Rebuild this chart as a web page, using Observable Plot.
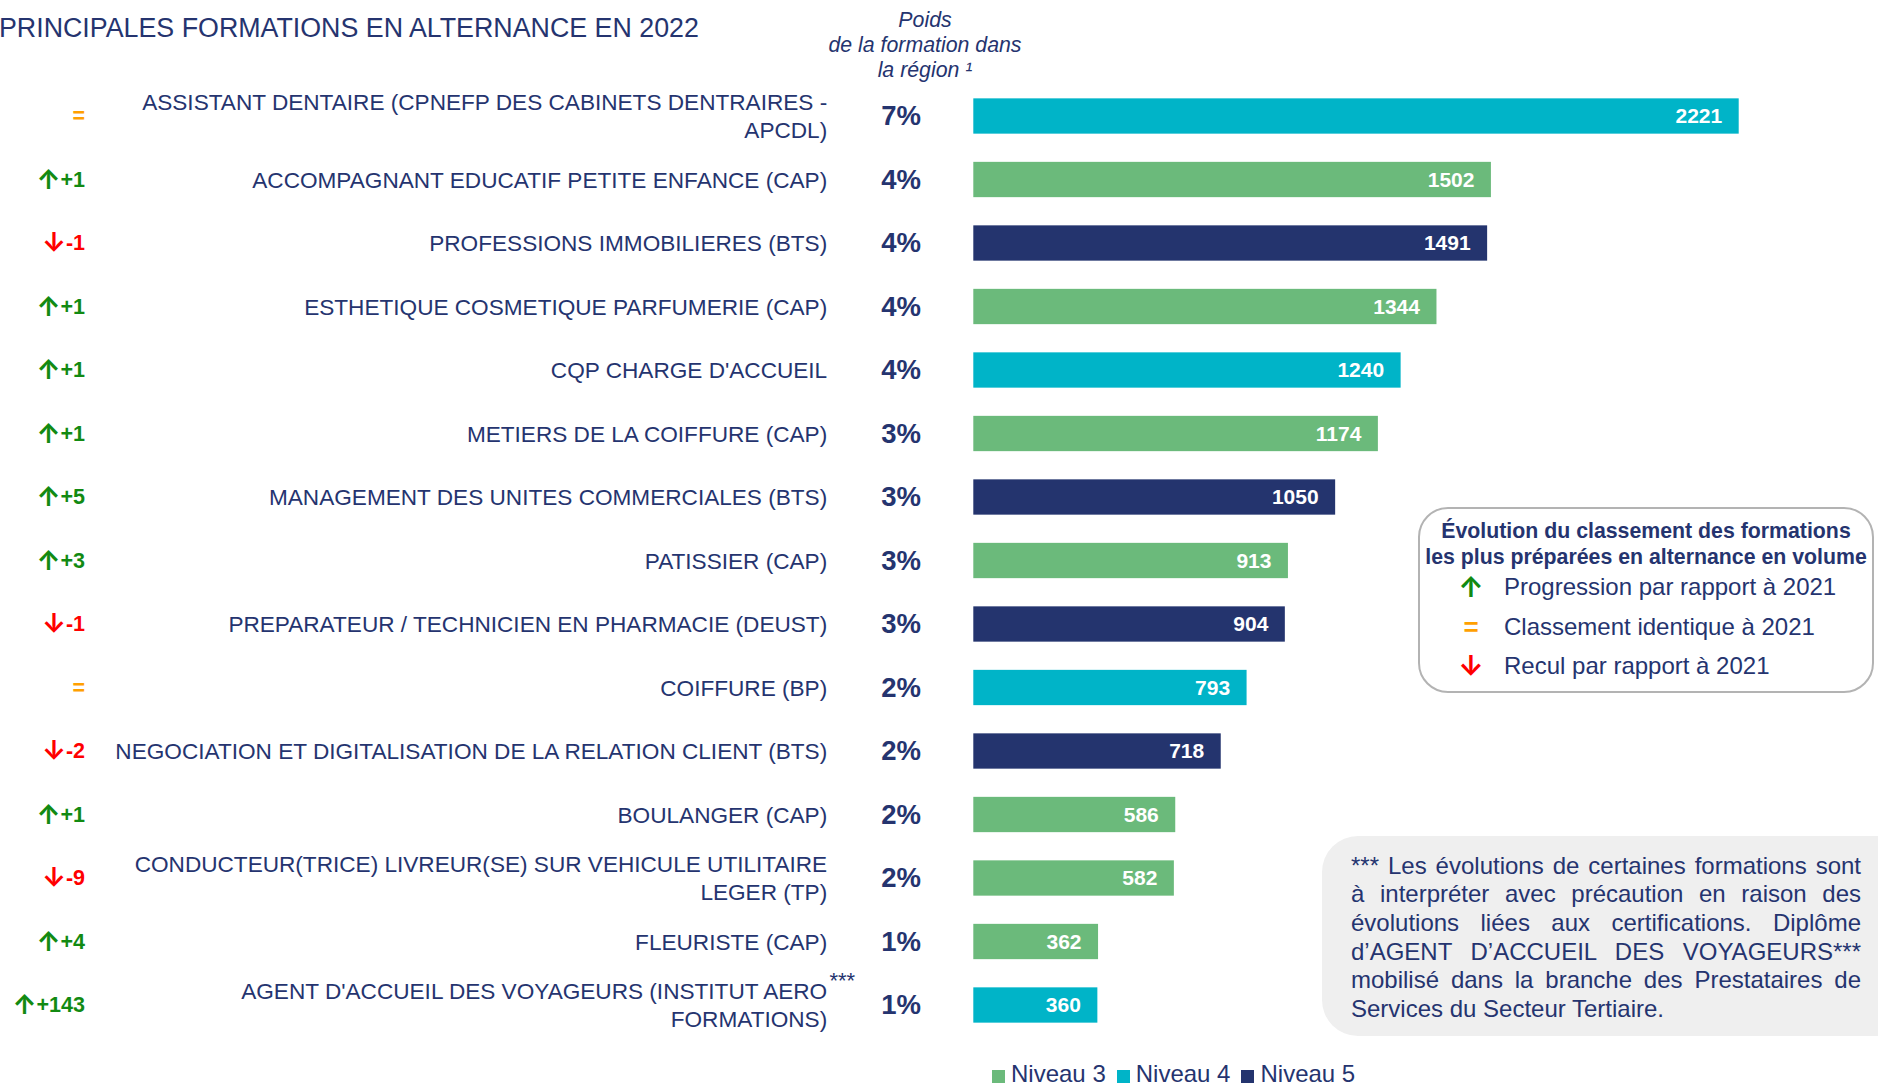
<!DOCTYPE html>
<html>
<head>
<meta charset="utf-8">
<script src="https://cdn.jsdelivr.net/npm/d3@7"></script>
<script src="https://cdn.jsdelivr.net/npm/@observablehq/plot@0.6"></script>
<style>
  html, body { margin: 0; padding: 0; background: #fff; }
  body { width: 1878px; height: 1084px; overflow: hidden; font-family: "Liberation Sans", Arial, sans-serif; color: #25346f; }
  #page { position: relative; width: 1878px; height: 1084px; }
  #chart { position: absolute; left: 0; top: 0; }
  .abs { position: absolute; white-space: nowrap; }
  #title { left: -1px; top: 12.5px; font-size: 26.8px; line-height: 30px; }
  #poids { left: 800px; top: 7.5px; width: 250px; text-align: center; font-style: italic; font-size: 21.3px; line-height: 25.3px; }
  #levelLegend { left: 992px; top: 1060px; height: 28px; display: flex; align-items: center; font-size: 24px; line-height: 28px; }
  #levelLegend .item { display: flex; align-items: center; margin-right: 11px; }
  #levelLegend .sw { width: 13px; height: 13px; margin-right: 6px; margin-top: 5px; }
  #evoBox { left: 1418px; top: 507px; width: 452px; height: 182px; border: 2px solid #b3b3b3; border-radius: 30px; background: #fff; }
  #evoBox .t { position: absolute; left: 0; width: 452px; text-align: center; font-weight: bold; font-size: 21.3px; line-height: 26px; white-space: nowrap; }
  #evoBox .sym { position: absolute; width: 34px; text-align: center; font-weight: bold; font-size: 26px; line-height: 30px; }
  #evoBox .sym.arrow { font-family: Inter, "Noto Sans CJK SC", sans-serif; font-size: 28px; }
  #evoBox .lab { position: absolute; left: 84px; font-size: 24px; line-height: 30px; white-space: nowrap; }
  #noteBox { left: 1322px; top: 836px; width: 620px; height: 200px; background: #efefef; border-radius: 36px; }
  #noteText { position: absolute; left: 29px; top: 15.5px; width: 510px; font-size: 24px; line-height: 28.7px; }
  #noteText div { text-align: justify; text-align-last: justify; white-space: nowrap; }
  #noteText div.last { text-align-last: left; }
</style>
</head>
<body>
<div id="page">
  <div id="chart"></div>
  <div id="title" class="abs">PRINCIPALES FORMATIONS EN ALTERNANCE EN 2022</div>
  <div id="poids" class="abs">Poids<br>de la formation dans<br>la région ¹</div>
  <div id="evoBox" class="abs"></div>
  <div id="noteBox" class="abs"><div id="noteText"></div></div>
  <div id="levelLegend" class="abs"></div>
</div>
<script>
// ---------- data ----------
const formations = [
  "ASSISTANT DENTAIRE (CPNEFP DES CABINETS DENTRAIRES -\nAPCDL)",
  "ACCOMPAGNANT EDUCATIF PETITE ENFANCE (CAP)",
  "PROFESSIONS IMMOBILIERES (BTS)",
  "ESTHETIQUE COSMETIQUE PARFUMERIE (CAP)",
  "CQP CHARGE D'ACCUEIL",
  "METIERS DE LA COIFFURE (CAP)",
  "MANAGEMENT DES UNITES COMMERCIALES (BTS)",
  "PATISSIER (CAP)",
  "PREPARATEUR / TECHNICIEN EN PHARMACIE (DEUST)",
  "COIFFURE (BP)",
  "NEGOCIATION ET DIGITALISATION DE LA RELATION CLIENT (BTS)",
  "BOULANGER (CAP)",
  "CONDUCTEUR(TRICE) LIVREUR(SE) SUR VEHICULE UTILITAIRE\nLEGER (TP)",
  "FLEURISTE (CAP)",
  "AGENT D'ACCUEIL DES VOYAGEURS (INSTITUT AERO\nFORMATIONS)"
];
const effectifs = [2221, 1502, 1491, 1344, 1240, 1174, 1050, 913, 904, 793, 718, 586, 582, 362, 360];
const niveaux = ["Niveau 4", "Niveau 3", "Niveau 5", "Niveau 3", "Niveau 4", "Niveau 3", "Niveau 5", "Niveau 3", "Niveau 5", "Niveau 4", "Niveau 5", "Niveau 3", "Niveau 3", "Niveau 3", "Niveau 4"];
const poids = ["7%", "4%", "4%", "4%", "4%", "3%", "3%", "3%", "3%", "2%", "2%", "2%", "2%", "1%", "1%"];
const evolutions = ["=", "+1", "-1", "+1", "+1", "+1", "+5", "+3", "-1", "=", "-2", "+1", "-9", "+4", "+143"];
const notes = ["", "", "", "", "", "", "", "", "", "", "", "", "", "", "***"];

const levelNames = ["Niveau 3", "Niveau 4", "Niveau 5"];
const levelColors = ["#6bba7b", "#00b4c8", "#24346e"];

const evoLegend = [
  {sym: "↑", kind: "up", label: "Progression par rapport à 2021"},
  {sym: "=", kind: "same", label: "Classement identique à 2021"},
  {sym: "↓", kind: "down", label: "Recul par rapport à 2021"}
];
const evoColors = {up: "#128a12", same: "#ffa000", down: "#ff0000"};

const noteLines = [
  "*** Les évolutions de certaines formations sont",
  "à interpréter avec précaution en raison des",
  "évolutions liées aux certifications. Diplôme",
  "d’AGENT D’ACCUEIL DES VOYAGEURS***",
  "mobilisé dans la branche des Prestataires de",
  "Services du Secteur Tertiaire."
];

// ---------- table ----------
const data = formations.map((name, i) => {
  const e = evolutions[i];
  const kind = e === "=" ? "same" : (e.startsWith("-") ? "down" : "up");
  const evoText = kind === "same" ? "=" : (kind === "up" ? "↑" : "↓") + e;
  return {name, value: effectifs[i], level: niveaux[i], share: poids[i], kind, evoText, note: notes[i]};
});

const navy = "#25346f";
const font = "'Liberation Sans', Arial, sans-serif";
const left = 973.3;

const chart = Plot.plot({
  width: 1878,
  height: 1056,
  marginLeft: left,
  marginRight: 139.3,
  marginTop: 84.25,
  marginBottom: 19.25,
  style: {fontFamily: font, background: "transparent", overflow: "visible"},
  x: {domain: [0, d3.max(effectifs)], axis: null},
  y: {domain: formations, paddingInner: 0.444, paddingOuter: 0.222, round: false, axis: null},
  color: {domain: levelNames, range: levelColors},
  marks: [
    Plot.barX(data, {x: "value", y: "name", fill: "level"}),
    Plot.text(data, {x: "value", y: "name", text: d => String(d.value), dx: -17, textAnchor: "end",
      fill: "white", fontWeight: "bold", fontSize: 21}),
    Plot.text(data, {y: "name", text: "name", frameAnchor: "left", dx: 826.7 - left, dy: -1.5, textAnchor: "end",
      fill: navy, fontSize: 22.6, lineHeight: 1.26}),
    Plot.text(data.filter(d => d.note), {y: "name", text: "note", frameAnchor: "left", dx: 829 - left, dy: -25,
      textAnchor: "start", fill: navy, fontSize: 22}),
    Plot.text(data, {y: "name", text: "share", frameAnchor: "left", dx: 900.7 - left, textAnchor: "middle",
      fill: navy, fontWeight: "bold", fontSize: 27.5}),
    Plot.text(data, {y: "name", text: "evoText", frameAnchor: "left", dx: 84.5 - left, textAnchor: "end",
      fill: d => evoColors[d.kind], fontWeight: "bold", fontSize: 21.5, className: "evo"})
  ]
});
document.getElementById("chart").appendChild(chart);

// give the arrows of the ranking column a larger arrow glyph
chart.querySelectorAll("g.evo text").forEach(t => {
  const s = t.textContent;
  if (s.startsWith("↑") || s.startsWith("↓")) {
    t.textContent = "";
    const a = document.createElementNS("http://www.w3.org/2000/svg", "tspan");
    a.setAttribute("font-family", "Inter, 'Noto Sans CJK SC', sans-serif");
    a.setAttribute("font-size", "26.5");
    a.setAttribute("font-weight", "bold");
    a.setAttribute("dy", "2");
    a.textContent = s[0];
    const r = document.createElementNS("http://www.w3.org/2000/svg", "tspan");
    r.setAttribute("dy", "-2");
    r.textContent = s.slice(1);
    t.appendChild(a); t.appendChild(r);
  }
});

// ---------- evolution legend box ----------
const box = document.getElementById("evoBox");
const t1 = document.createElement("div");
t1.className = "t"; t1.style.top = "9px"; t1.textContent = "Évolution du classement des formations";
const t2 = document.createElement("div");
t2.className = "t"; t2.style.top = "35px"; t2.textContent = "les plus préparées en alternance en volume";
box.appendChild(t1); box.appendChild(t2);
const rowTops = [63, 103, 142];
evoLegend.forEach((d, i) => {
  const s = document.createElement("div");
  s.className = "sym" + (d.kind === "same" ? "" : " arrow");
  s.style.left = "34px"; s.style.top = rowTops[i] + "px";
  s.style.color = evoColors[d.kind]; s.textContent = d.sym;
  const l = document.createElement("div");
  l.className = "lab"; l.style.top = rowTops[i] + "px"; l.textContent = d.label;
  box.appendChild(s); box.appendChild(l);
});

// ---------- note box ----------
const nt = document.getElementById("noteText");
noteLines.forEach((line, i) => {
  const dv = document.createElement("div");
  dv.textContent = line;
  if (i === noteLines.length - 1) dv.className = "last";
  nt.appendChild(dv);
});

// ---------- level legend ----------
const lg = document.getElementById("levelLegend");
levelNames.forEach((n, i) => {
  const it = document.createElement("div");
  it.className = "item";
  const sw = document.createElement("div");
  sw.className = "sw"; sw.style.background = levelColors[i];
  const tx = document.createElement("span");
  tx.textContent = n;
  it.appendChild(sw); it.appendChild(tx);
  lg.appendChild(it);
});
</script>
</body>
</html>
